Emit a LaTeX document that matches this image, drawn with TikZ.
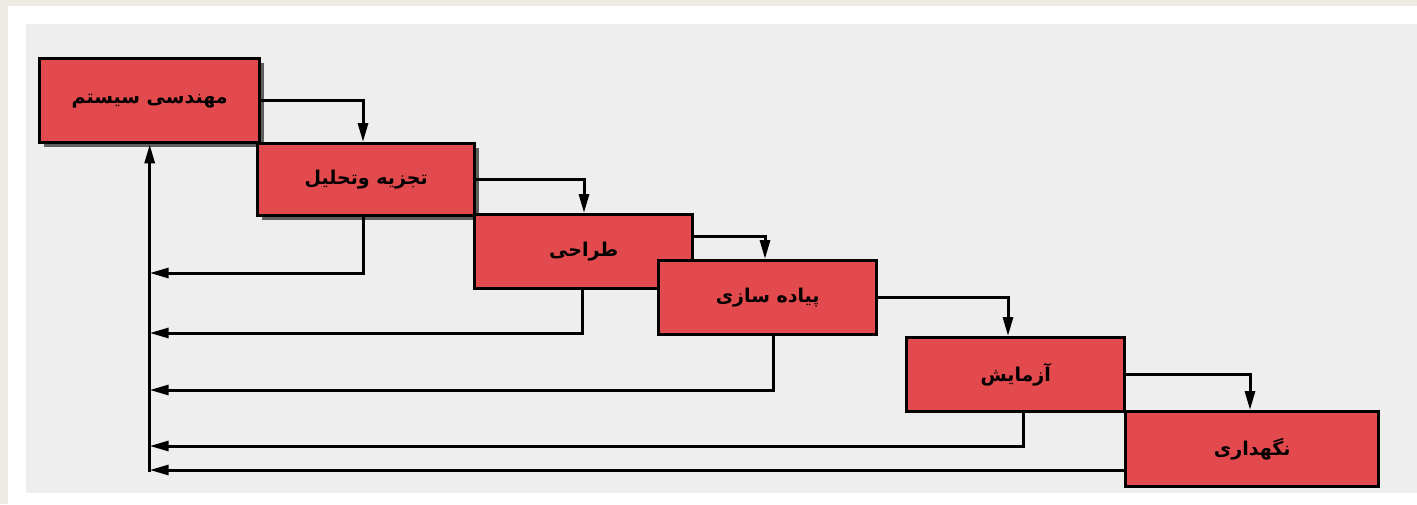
\documentclass[tikz,border=0pt]{standalone}
\usepackage{fontspec}
\newfontfamily\arabicfont[Script=Arabic]{DejaVu Sans}
\TeXXeTstate=1
\usetikzlibrary{arrows.meta,calc,shadows}
\definecolor{beige}{HTML}{ECEAE2}
\definecolor{panel}{HTML}{EEEEEE}
\definecolor{boxred}{HTML}{E34A4D}
\tikzset{
  stagebox/.style={draw=black, line width=3.4pt, fill=boxred, anchor=north west,
    inner sep=0pt, font=\arabicfont\bfseries\fontsize{19}{23}\selectfont},
  shadowed/.style={drop shadow={shadow xshift=4pt, shadow yshift=-4pt, fill=black, opacity=.6}},
  conn/.style={draw=black, line width=3pt, -{Triangle[length=19pt,width=10pt]}},
}
\begin{document}
\begin{tikzpicture}[x=1pt,y=-1pt]
\useasboundingbox (0,0) rectangle (1417,504);
\fill[beige] (0,0) rectangle (1417,504);
\fill[white] (8,6) rectangle (1417,504);
\fill[panel] (26,24) rectangle (1417,493);

% stages
\node[stagebox, shadowed, minimum width=220pt, minimum height=84pt] (b1) at (38,57) {\beginR مهندسی سیستم\endR};
\node[stagebox, shadowed, minimum width=217pt, minimum height=72pt] (b2) at (256,142) {\beginR تجزیه وتحلیل\endR};
\node[stagebox, minimum width=218pt, minimum height=74pt] (b3) at (473,213) {\beginR طراحی\endR};
\node[stagebox, minimum width=218pt, minimum height=74pt] (b4) at (657,259) {\beginR پیاده سازی\endR};
\node[stagebox, minimum width=218pt, minimum height=74pt] (b5) at (905,336) {\beginR آزمایش\endR};
\node[stagebox, minimum width=253pt, minimum height=75pt] (b6) at (1124,410) {\beginR نگهداری\endR};

% spine points
\coordinate (s2) at (b1.south |- 0,273);
\coordinate (s3) at (b1.south |- 0,333);
\coordinate (s4) at (b1.south |- 0,390);
\coordinate (s5) at (b1.south |- 0,446);
\coordinate (s6) at (b1.south |- 0,470);

% forward arrows
\draw[conn] (b1.east) -| ($(b2.north west)+(107,0)$);
\draw[conn] (b2.east) -| ($(b3.north west)+(111,0)$);
\draw[conn] ($(b3.north east)+(0,23)$) -| ($(b4.north west)+(108,0)$);
\draw[conn] (b4.east) -| ($(b5.north west)+(103,0)$);
\draw[conn] (b5.east) -| ($(b6.north west)+(126,0)$);

% feedback arrows
\draw[conn] ($(b2.south west)+(107,0)$) |- (s2);
\draw[conn] ($(b3.south west)+(109,0)$) |- (s3);
\draw[conn] ($(b4.south west)+(116,0)$) |- (s4);
\draw[conn] ($(b5.south west)+(118,0)$) |- (s5);
\draw[conn] (s6 -| b6.west) -- (s6);
\draw[conn, shorten <=-1.5pt] (s6) -- (b1.south);
\end{tikzpicture}
\end{document}
